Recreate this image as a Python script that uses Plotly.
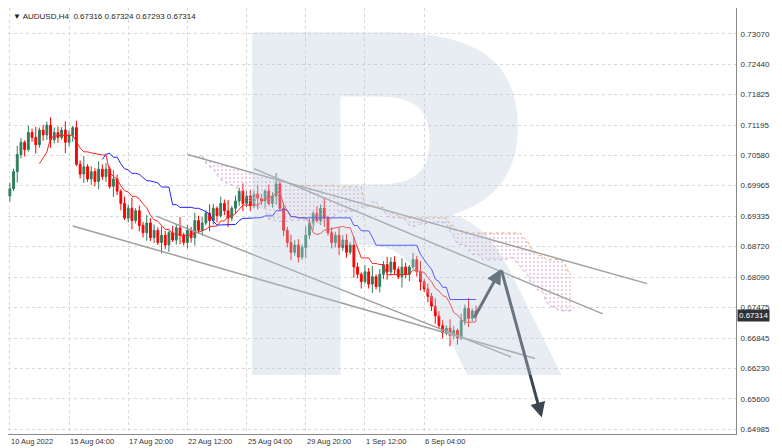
import plotly.graph_objects as go
import numpy as np

closes = [0.6990, 0.7025, 0.7060, 0.7085, 0.7070, 0.7105,
          0.7095, 0.7080, 0.7110, 0.7100, 0.7120, 0.7090, 0.7105, 0.7095, 0.7110, 0.7085, 0.7100, 0.7115,
          0.7040, 0.7020, 0.7035, 0.7010, 0.7025, 0.7005, 0.7030, 0.7015, 0.7030, 0.6995, 0.7010,
          0.6985, 0.6960, 0.6930, 0.6950, 0.6925,
          0.6945, 0.6915, 0.6900, 0.6920, 0.6890, 0.6905, 0.6880, 0.6895, 0.6875, 0.6900, 0.6885, 0.6910,
          0.6895, 0.6880, 0.6905, 0.6890, 0.6925, 0.6905, 0.6920,
          0.6940, 0.6925, 0.6950, 0.6935, 0.6960, 0.6945, 0.6930, 0.6950,
          0.6965, 0.6985, 0.6960, 0.6975, 0.6955, 0.6980, 0.6970, 0.6965, 0.6985, 0.6960, 0.6975, 0.7000, 0.6950,
          0.6905, 0.6880, 0.6860, 0.6875, 0.6850, 0.6870, 0.6895,
          0.6920, 0.6940, 0.6925, 0.6950, 0.6930,
          0.6900, 0.6880, 0.6895, 0.6870, 0.6885, 0.6860, 0.6875,
          0.6830, 0.6815, 0.6800, 0.6820, 0.6795, 0.6810, 0.6790, 0.6815,
          0.6835, 0.6820, 0.6840, 0.6825, 0.6810, 0.6830, 0.6815,
          0.6830, 0.6845, 0.6820, 0.6800, 0.6785, 0.6770,
          0.6750, 0.6730, 0.6710, 0.6695, 0.6705, 0.6690, 0.6700, 0.6685,
          0.6720, 0.6745, 0.6725, 0.6740, 0.6731]
first_open = 0.6975
wicks = [0.0012, 0.0006, 0.0018, 0.0009, 0.0004, 0.0014, 0.0008, 0.0022, 0.0005, 0.0011, 0.0007, 0.0016, 0.0010]

tick_idx = [0, 16, 32, 48, 64, 80, 96, 112]
tick_text = ["10 Aug 2022", "15 Aug 04:00", "17 Aug 20:00", "22 Aug 12:00",
             "25 Aug 04:00", "29 Aug 20:00", "1 Sep 12:00", "6 Sep 04:00"]
price_ticks = [0.73070, 0.72440, 0.71825, 0.71195, 0.70580, 0.69965, 0.69335,
               0.68720, 0.68090, 0.67475, 0.66845, 0.66230, 0.65600, 0.64985]

# trend channel lines (bar index, price)
channel = [((48, 0.7060), (172.3, 0.6796)),
           ((66, 0.7031), (160.3, 0.6734)),
           ((17, 0.6914), (142, 0.6643)),
           ((39.5, 0.6934), (135.5, 0.6646))]
# forecast path: start, turn, end
forecast = [(125.3, 0.6723), (132.8, 0.6826), (143.8, 0.6522)]

c = np.array(closes)
o = np.concatenate([[first_open], c[:-1]])
w = np.array([wicks[i % len(wicks)] for i in range(len(c))])
h = np.maximum(o, c) + w
l = np.minimum(o, c) - w[::-1]
n = len(c)
x = np.arange(n)

def mid(period):
    out = np.full(n, np.nan)
    for i in range(period - 1, n):
        out[i] = (h[i - period + 1:i + 1].max() + l[i - period + 1:i + 1].min()) / 2
    return out

tenkan = mid(9)
kijun = mid(26)
span_a = (tenkan + kijun) / 2
span_b = mid(52)
xs = np.arange(n + 26)
sa = np.concatenate([np.full(26, np.nan), span_a])
sb = np.concatenate([np.full(26, np.nan), span_b])

fig = go.Figure()
fig.add_trace(go.Scatter(x=xs, y=sb, mode="lines", line=dict(color="#f4a460", width=1, dash="dot")))
fig.add_trace(go.Scatter(x=xs, y=sa, mode="lines", line=dict(color="#c9a9d9", width=1, dash="dot"),
                         fill="tonexty", fillcolor="rgba(0,0,0,0)",
                         fillpattern=dict(shape=".", fgcolor="#d9a8c8", size=4, solidity=0.3)))
fig.add_trace(go.Candlestick(x=x, open=o, high=h, low=l, close=c,
                             increasing=dict(line=dict(color="#2e7d5b", width=1), fillcolor="#2e7d5b"),
                             decreasing=dict(line=dict(color="#ff0000", width=1), fillcolor="#ff0000"),
                             whiskerwidth=0))
fig.add_trace(go.Scatter(x=x, y=tenkan, mode="lines", line=dict(color="#ff2020", width=1)))
fig.add_trace(go.Scatter(x=x, y=kijun, mode="lines", line=dict(color="#2020ff", width=1)))

for (x0, y0), (x1, y1) in channel:
    fig.add_shape(type="line", x0=x0, y0=y0, x1=x1, y1=y1, line=dict(color="#a0a0a0", width=1.5))

for (ax, ay), (hx, hy) in zip(forecast[:-1], forecast[1:]):
    fig.add_annotation(x=hx, y=hy, ax=ax, ay=ay, xref="x", yref="y", axref="x", ayref="y",
                       text="", showarrow=True, arrowhead=2, arrowsize=1, arrowwidth=3,
                       arrowcolor="#3c4650", standoff=0, startstandoff=0)

fig.add_annotation(x=0.525, y=0.52, xref="paper", yref="paper", text="<b>R</b>", showarrow=False,
                   font=dict(size=470, family="DejaVu Sans", color="rgba(190,202,222,0.35)"))

for i, t in zip(tick_idx, tick_text):
    fig.add_annotation(x=i, y=0, xref="x", yref="paper", yshift=-1, text=t, showarrow=False,
                       xanchor="left", yanchor="top", xshift=-1,
                       font=dict(size=7.5, family="Liberation Sans", color="#333"))

fig.add_annotation(x=1, y=c[-1], xref="paper", yref="y", text="0.67314", showarrow=False, xanchor="left",
                   xshift=1, bgcolor="#2f3338", font=dict(size=8, family="Liberation Sans", color="white"),
                   borderpad=1)
fig.add_annotation(x=0, y=1, xref="paper", yref="paper", text="▼ AUDUSD,H4  0.67316 0.67324 0.67293 0.67314",
                   showarrow=False, xanchor="left", yanchor="top", xshift=3, yshift=-2,
                   font=dict(size=8, family="Liberation Sans", color="#222"))

fig.update_layout(width=782, height=448, margin=dict(l=0, r=54, t=0, b=22),
                  paper_bgcolor="white", plot_bgcolor="white", showlegend=False,
                  font=dict(family="Liberation Sans"))
fig.update_xaxes(range=[-0.5, 196.3], rangeslider_visible=False, showgrid=True, gridcolor="#d8d8d8",
                 griddash="dot", tickvals=tick_idx, showticklabels=False, showline=True,
                 linecolor="#888", mirror=True, zeroline=False)
fig.update_yaxes(side="right", range=[0.64884, 0.73597], tickvals=price_ticks,
                 ticktext=[f"{p:.5f}" for p in price_ticks], showgrid=True, gridcolor="#d8d8d8",
                 griddash="dot", tickfont=dict(size=8, color="#333"), showline=True, linecolor="#888",
                 mirror=True, ticks="", ticklabelstandoff=2, zeroline=False)
fig.write_html("out.html")
